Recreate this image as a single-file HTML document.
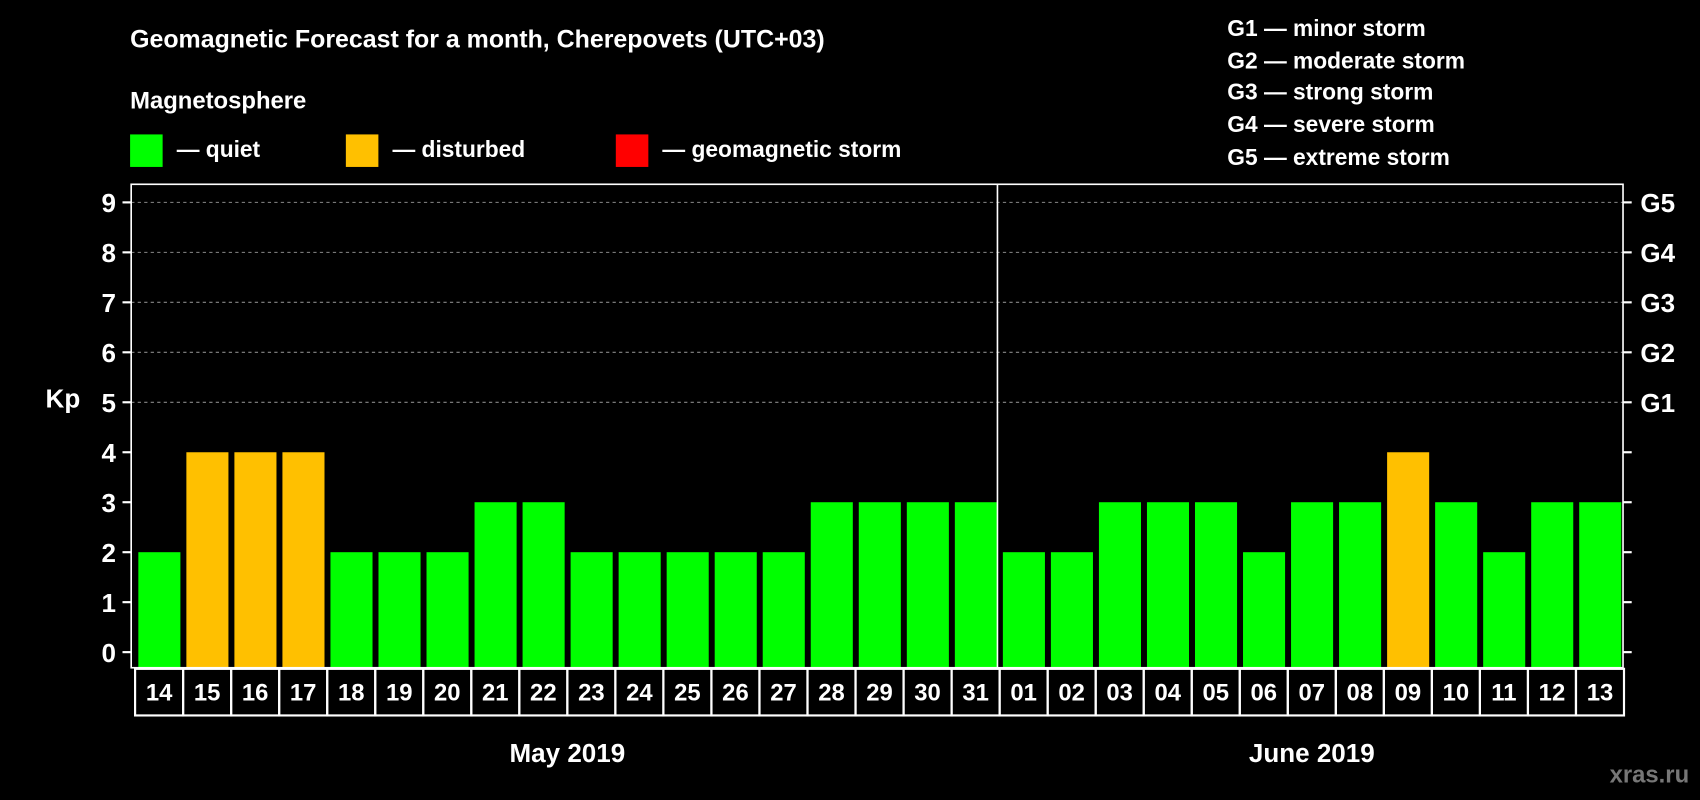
<!DOCTYPE html>
<html><head><meta charset="utf-8"><style>
html,body{margin:0;padding:0;background:#000;}
svg{display:block;font-family:"Liberation Sans",Arial,sans-serif;font-weight:bold;}
</style></head><body>
<svg id="chart" width="1700" height="800" viewBox="0 0 1568 738" preserveAspectRatio="none">
<rect width="1568" height="738" fill="#000"/>
<text x="120" y="44" fill="#fff" font-size="23">Geomagnetic Forecast for a month, Cherepovets (UTC+03)</text>
<text x="120" y="100" fill="#fff" font-size="22">Magnetosphere</text>
<g>
<rect x="120" y="124" width="30" height="30" fill="#00ff00"/>
<text x="163" y="145" fill="#fff" font-size="21">— quiet</text>
<rect x="319" y="124" width="30" height="30" fill="#ffc000"/>
<text x="362" y="145" fill="#fff" font-size="21">— disturbed</text>
<rect x="568" y="124" width="30" height="30" fill="#ff0000"/>
<text x="611" y="145" fill="#fff" font-size="21">— geomagnetic storm</text>
</g>
<g fill="#fff" font-size="21">
<text x="1132" y="33">G1 — minor storm</text>
<text x="1132" y="63">G2 — moderate storm</text>
<text x="1132" y="92">G3 — strong storm</text>
<text x="1132" y="122">G4 — severe storm</text>
<text x="1132" y="152">G5 — extreme storm</text>
</g>
<text x="58" y="376" fill="#fff" font-size="24" text-anchor="middle">Kp</text>
<text x="1558" y="722" fill="#777" font-size="22" text-anchor="end">xras.ru</text>
<g id="plot"></g>
</svg>
<script>
const days = ["14","15","16","17","18","19","20","21","22","23","24","25","26","27","28","29","30","31","01","02","03","04","05","06","07","08","09","10","11","12","13"];
const kpValues = [2,4,4,4,2,2,2,3,3,2,2,2,2,2,3,3,3,3,2,2,3,3,3,2,3,3,4,3,2,3,3];
const yTicks = [0,1,2,3,4,5,6,7,8,9];
const gLabels = {5:"G1",6:"G2",7:"G3",8:"G4",9:"G5"};
const months = [{name:"May 2019",from:0,to:17},{name:"June 2019",from:18,to:30}];

const NS="http://www.w3.org/2000/svg";
const plot=document.getElementById('plot');
const L=121,R=1497,T=170,B=616,cellX0=124.6,pitch=44.3;
const y=v=>601.6-v*46.1;
const x=i=>cellX0+i*pitch;
function mk(tag,attrs,parent){const e=document.createElementNS(NS,tag);for(const k in attrs)e.setAttribute(k,attrs[k]);(parent||plot).appendChild(e);return e;}

// grid
yTicks.forEach(v=>{
  if(v>=5){const g=mk('line',{x1:L,x2:R,y1:y(v),y2:y(v),stroke:'#888','stroke-dasharray':'3,3','stroke-width':1});
    
    }
  const t=mk('line',{x1:L-8,x2:L,y1:y(v),y2:y(v),stroke:'#fff','stroke-width':2});
  
  
  const t2=mk('line',{x1:R,x2:R+8,y1:y(v),y2:y(v),stroke:'#fff','stroke-width':2});
  
  
  const lb=mk('text',{x:L-14,y:y(v)+9,fill:'#fff','font-size':24,'text-anchor':'end'});
  lb.textContent=v;
  
  
  if(gLabels[v]){const gl=mk('text',{x:R+16,y:y(v)+9,fill:'#fff','font-size':24});
    gl.textContent=gLabels[v];
    
    }
});
// bars
kpValues.forEach((v,i)=>{
  const c=v>=5?'#ff0000':(v>=4?'#ffc000':'#00ff00');
  const b=mk('rect',{x:x(i)+3,y:y(v),width:pitch-5.5,height:B-y(v),fill:c});
  
  
});
// frame
const fr=mk('rect',{x:L,y:T,width:R-L,height:B-T,fill:'none',stroke:'#fff','stroke-width':1.5});


const dv=mk('line',{x1:x(18)-2,x2:x(18)-2,y1:T,y2:B,stroke:'#fff','stroke-width':1.5});


// date row
days.forEach((d,i)=>{
  const r=mk('rect',{x:x(i),y:B+1,width:pitch,height:43,fill:'none',stroke:'#fff','stroke-width':2});
  
  
  const t=mk('text',{x:x(i)+pitch/2,y:B+30,fill:'#fff','font-size':22,'text-anchor':'middle'});
  t.textContent=d;
  
  
});
months.forEach(m=>{
  const t=mk('text',{x:(x(m.from)+x(m.to+1))/2,y:703,fill:'#fff','font-size':24,'text-anchor':'middle'});
  t.textContent=m.name;
  
  
});
</script>
</body></html>
